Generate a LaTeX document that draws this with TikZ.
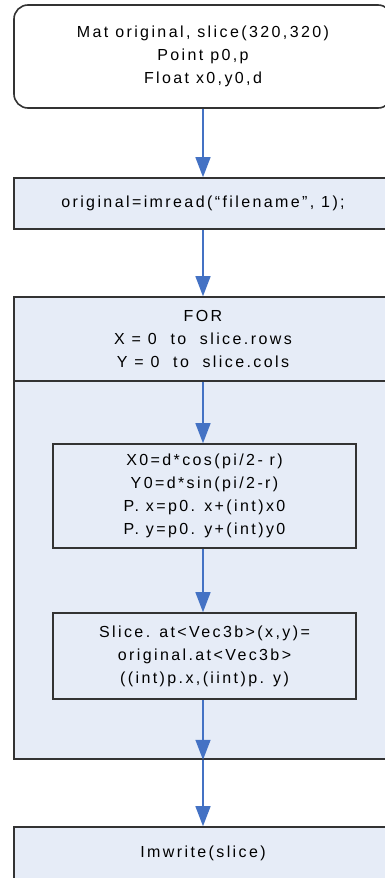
\documentclass[tikz,border=0pt]{standalone}
\usepackage{fontspec}
\setmainfont{Liberation Sans}[LetterSpace=15]
\usetikzlibrary{arrows.meta}

\definecolor{boxfill}{HTML}{E6ECF7}
\definecolor{flowblue}{HTML}{4472C4}
\definecolor{boxline}{HTML}{333333}

\tikzset{
  box/.style={draw=boxline, line width=1.6pt, inner sep=0pt, align=center, minimum width=378pt},
  startbox/.style={box, rounded corners=14pt, fill=white, minimum height=103pt},
  stepbox/.style={box, fill=boxfill},
  innerbox/.style={box, fill=boxfill, minimum width=303pt},
  flow/.style={draw=flowblue, line width=1.4pt, -{Triangle[width=15pt,length=20pt]}}
}

\begin{document}
\begin{tikzpicture}[x=1pt, y=-1pt, font=\fontsize{16}{23}\selectfont]
\useasboundingbox (0,0) rectangle (385,878);

\node[startbox] (decl) at (203,56.5) {Mat original, slice(320,320)\\Point p0,p\\Float x0,y0,d};
\node[stepbox, minimum height=51pt] (read) at (203,203.5) {original=imread(``filename'', 1);};
\node[stepbox, minimum height=378pt] (loopbody) at (203,570) {};
\node[stepbox, minimum height=84pt] (loophead) at (203,339) {FOR\\X = 0 \ to \ slice.rows\\Y = 0 \ to \ slice.cols};
\node[innerbox, minimum height=104pt] (calc) at (204.5,496) {X0=d*cos(pi/2- r)\\Y0=d*sin(pi/2-r)\\P. x=p0. x+(int)x0\\P. y=p0. y+(int)y0};
\node[innerbox, minimum height=86pt] (assign) at (204.5,656) {Slice. at<Vec3b>(x,y)=\\original.at<Vec3b>\\((int)p.x,(iint)p. y)};
\node[stepbox, minimum height=53pt] (write) at (203,853.5) {Imwrite(slice)};

\draw[flow] (decl.south -| read.north) -- (read.north);
\draw[flow] (read.south) -- (loophead.north);
\draw[flow] (loophead.south) -- (loophead.south |- calc.north);
\draw[flow] (loophead.south |- calc.south) -- (loophead.south |- assign.north);
\draw[flow] (loophead.south |- assign.south) -- (loopbody.south);
\draw[flow] (loopbody.south) -- (write.north);
\end{tikzpicture}
\end{document}
